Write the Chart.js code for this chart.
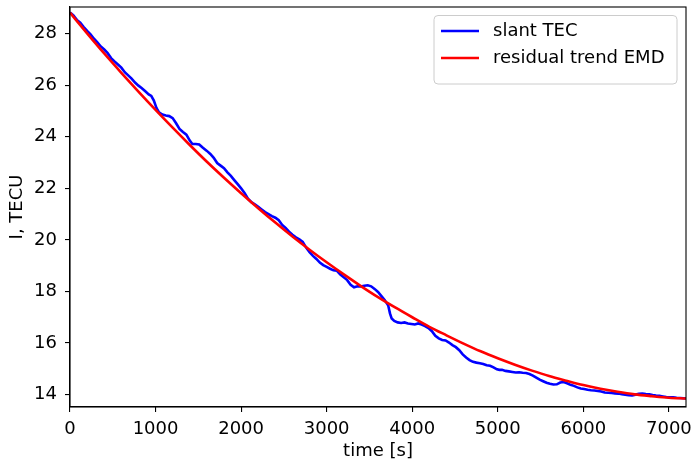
<!DOCTYPE html>
<html>
<head>
<meta charset="utf-8">
<title>slant TEC</title>
<script src="https://cdn.jsdelivr.net/npm/chart.js@4.4.0/dist/chart.umd.min.js"></script>
<style>
  html, body { margin: 0; padding: 0; background: #ffffff; }
  #tecChart { display: block; }
</style>
</head>
<body>
<canvas id="tecChart" width="694" height="462"></canvas>
<script>
// slant TEC (time in s, value in TECU)
const tecTime = [
  0, 40, 80, 120, 160, 200, 240, 280, 320, 360, 400, 440, 480, 520, 560, 600,
  640, 680, 720, 760, 800, 840, 880, 920, 950, 980, 1010, 1040, 1080, 1120, 1160, 1200,
  1240, 1280, 1320, 1360, 1400, 1430, 1470, 1510, 1550, 1600, 1640, 1680, 1720, 1760, 1800, 1840,
  1880, 1920, 1960, 2000, 2040, 2080, 2120, 2160, 2200, 2240, 2280, 2320, 2360, 2400, 2440, 2480,
  2520, 2560, 2600, 2640, 2680, 2720, 2760, 2800, 2840, 2880, 2920, 2960, 3000, 3040, 3080, 3120,
  3160, 3200, 3240, 3280, 3320, 3360, 3400, 3440, 3480, 3520, 3560, 3600, 3640, 3680, 3720, 3740,
  3760, 3790, 3830, 3870, 3910, 3950, 3990, 4030, 4070, 4110, 4150, 4190, 4230, 4270, 4310, 4350,
  4390, 4430, 4470, 4510, 4550, 4590, 4630, 4670, 4710, 4750, 4790, 4830, 4870, 4910, 4950, 4990,
  5020, 5050, 5090, 5130, 5170, 5210, 5250, 5290, 5330, 5370, 5410, 5450, 5490, 5530, 5570, 5610,
  5650, 5690, 5730, 5770, 5810, 5850, 5890, 5930, 5970, 6010, 6050, 6090, 6130, 6170, 6210, 6250,
  6290, 6330, 6370, 6410, 6450, 6490, 6530, 6570, 6610, 6650, 6690, 6730, 6770, 6810, 6850, 6890,
  6930, 6970, 7010, 7050, 7090, 7130, 7170, 7200
];
const tecValues = [
  28.82, 28.70, 28.53, 28.42, 28.25, 28.10, 27.97, 27.80, 27.66, 27.50, 27.38, 27.24, 27.05, 26.92, 26.80, 26.68,
  26.50, 26.38, 26.25, 26.10, 25.98, 25.88, 25.76, 25.64, 25.58, 25.40, 25.12, 24.94, 24.86, 24.82, 24.80, 24.72,
  24.52, 24.30, 24.18, 24.08, 23.85, 23.72, 23.72, 23.70, 23.58, 23.45, 23.33, 23.18, 22.98, 22.88, 22.78, 22.62,
  22.48, 22.32, 22.16, 22.00, 21.82, 21.60, 21.46, 21.38, 21.28, 21.18, 21.08, 21.00, 20.92, 20.86, 20.76, 20.58,
  20.46, 20.32, 20.20, 20.10, 20.02, 19.92, 19.70, 19.52, 19.38, 19.26, 19.12, 19.02, 18.95, 18.88, 18.82, 18.80,
  18.66, 18.55, 18.44, 18.26, 18.16, 18.20, 18.19, 18.22, 18.24, 18.20, 18.10, 17.98, 17.82, 17.66, 17.45, 17.15,
  16.95, 16.86, 16.80, 16.78, 16.80, 16.76, 16.74, 16.72, 16.76, 16.72, 16.66, 16.58, 16.46, 16.28, 16.18, 16.12,
  16.10, 16.02, 15.92, 15.84, 15.72, 15.56, 15.44, 15.34, 15.27, 15.24, 15.22, 15.19, 15.14, 15.12, 15.06, 14.98,
  14.96, 14.96, 14.92, 14.90, 14.88, 14.86, 14.87, 14.85, 14.84, 14.80, 14.74, 14.66, 14.58, 14.52, 14.46, 14.42,
  14.39, 14.40, 14.47, 14.49, 14.44, 14.38, 14.34, 14.28, 14.24, 14.22, 14.19, 14.17, 14.16, 14.14, 14.12, 14.08,
  14.07, 14.06, 14.05, 14.04, 14.02, 14.00, 13.98, 13.97, 14.00, 14.03, 14.04, 14.02, 14.01, 13.98, 13.96, 13.95,
  13.93, 13.91, 13.90, 13.90, 13.88, 13.87, 13.86, 13.85
];

// EMD residual trend
const trendTime = [
  0, 200, 400, 600, 800, 1000, 1200, 1400, 1600, 1800, 2000, 2200, 2400, 2600, 2800, 3000, 3200, 3400,
  3600, 3800, 4000, 4200, 4400, 4600, 4800, 5000, 5200, 5400, 5600, 5800, 6000, 6200, 6400, 6600,
  6800, 7000, 7200
];
const trendValues = [
  28.81, 28.01, 27.23, 26.48, 25.75, 25.04, 24.35, 23.68, 23.03, 22.41, 21.81, 21.23, 20.67, 20.13, 19.62, 19.13, 18.66, 18.21,
  17.78, 17.38, 17.00, 16.63, 16.30, 15.98, 15.68, 15.41, 15.16, 14.93, 14.72, 14.54, 14.37, 14.23, 14.11, 14.01,
  13.94, 13.88, 13.85
];

const xTickValues = [0, 1000, 2000, 3000, 4000, 5000, 6000, 7000];
const yTickValues = [14, 16, 18, 20, 22, 24, 26, 28];

const FONT = { family: 'DejaVu Sans', size: 18 };

function toPoints(xs, ys) {
  return xs.map((x, i) => ({ x: x, y: ys[i] }));
}

// top and right spines, like matplotlib's closed box
const frameBox = {
  id: 'frameBox',
  afterDatasetsDraw(chart) {
    const a = chart.chartArea;
    const ctx = chart.ctx;
    ctx.save();
    ctx.strokeStyle = '#000000';
    ctx.lineWidth = 1.1;
    ctx.strokeRect(a.left, a.top, a.right - a.left, a.bottom - a.top);
    ctx.restore();
  }
};

// legend box in the upper right corner
const cornerLegend = {
  id: 'cornerLegend',
  afterDraw(chart) {
    const ctx = chart.ctx;
    const items = [chart.data.datasets[0], chart.data.datasets[1]];
    const x0 = 434, y0 = 15.5, w = 243, h = 68.5, r = 4;
    ctx.save();
    ctx.beginPath();
    ctx.moveTo(x0 + r, y0);
    ctx.arcTo(x0 + w, y0, x0 + w, y0 + h, r);
    ctx.arcTo(x0 + w, y0 + h, x0, y0 + h, r);
    ctx.arcTo(x0, y0 + h, x0, y0, r);
    ctx.arcTo(x0, y0, x0 + w, y0, r);
    ctx.closePath();
    ctx.fillStyle = 'rgba(255,255,255,0.8)';
    ctx.fill();
    ctx.strokeStyle = '#cccccc';
    ctx.lineWidth = 1;
    ctx.stroke();

    ctx.font = FONT.size + 'px "' + FONT.family + '"';
    ctx.textBaseline = 'middle';
    ctx.textAlign = 'left';
    items.forEach((ds, i) => {
      const y = 31 + i * 27;
      ctx.beginPath();
      ctx.moveTo(441, y);
      ctx.lineTo(479, y);
      ctx.strokeStyle = ds.borderColor;
      ctx.lineWidth = ds.borderWidth;
      ctx.stroke();
      ctx.fillStyle = '#000000';
      ctx.fillText(ds.label, 493, y);
    });
    ctx.restore();
  }
};

const ctx = document.getElementById('tecChart').getContext('2d');
const tecChart = new Chart(ctx, {
  type: 'line',
  data: {
    datasets: [
      {
        label: 'slant TEC',
        data: toPoints(tecTime, tecValues),
        borderColor: '#0000ff',
        borderWidth: 2.6,
        pointRadius: 0,
        tension: 0,
        order: 2
      },
      {
        label: 'residual trend EMD',
        data: toPoints(trendTime, trendValues),
        borderColor: '#ff0000',
        borderWidth: 2.6,
        pointRadius: 0,
        cubicInterpolationMode: 'monotone',
        order: 1
      }
    ]
  },
  options: {
    responsive: false,
    animation: false,
    devicePixelRatio: 1,
    layout: { padding: { top: 7, right: 8, left: 0, bottom: 0 } },
    plugins: {
      legend: { display: false },
      tooltip: { enabled: false }
    },
    scales: {
      x: {
        type: 'linear',
        min: 0,
        max: 7200,
        afterBuildTicks: scale => { scale.ticks = xTickValues.map(v => ({ value: v })); },
        afterFit: scale => {
          scale.height = 55;
          scale.paddingLeft = 0;
          scale.paddingRight = 0;
        },
        grid: { drawOnChartArea: false, drawTicks: true, tickLength: 5, color: '#000000', lineWidth: 1.1 },
        border: { display: true, color: '#000000', width: 1.1 },
        ticks: { color: '#000000', font: FONT, padding: 7, maxRotation: 0, callback: v => String(v) },
        title: { display: true, text: 'time [s]', color: '#000000', font: FONT, padding: { top: 0, bottom: 0 } }
      },
      y: {
        type: 'linear',
        min: 13.52,
        max: 29.03,
        afterBuildTicks: scale => { scale.ticks = yTickValues.map(v => ({ value: v })); },
        afterFit: scale => {
          scale.width = 70;
          scale.paddingTop = 0;
          scale.paddingBottom = 0;
        },
        grid: { drawOnChartArea: false, drawTicks: true, tickLength: 5, color: '#000000', lineWidth: 1.1 },
        border: { display: true, color: '#000000', width: 1.1 },
        ticks: { color: '#000000', font: FONT, padding: 8, callback: v => String(v) },
        title: { display: true, text: 'I, TECU', color: '#000000', font: FONT, padding: { top: 7, bottom: 0 } }
      }
    }
  },
  plugins: [frameBox, cornerLegend]
});
</script>
</body>
</html>
